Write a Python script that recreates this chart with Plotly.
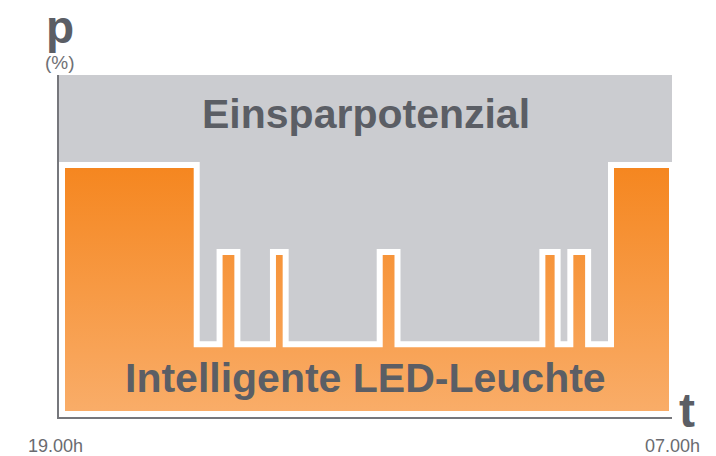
import plotly.graph_objects as go

# step profile of the luminaire output over one night (hours after 19.00h)
change_times = [0, 2.65, 3.10, 3.45, 4.15, 4.40, 6.25, 6.60, 9.45, 9.75, 10.0, 10.35, 10.8, 12]
power_levels = [100, 28, 65, 28, 65, 28, 65, 28, 65, 28, 65, 28, 100]

time_labels = ["19.00h", "07.00h"]
area_labels = ["Einsparpotenzial", "Intelligente LED-Leuchte"]

TEXT = "#5B5E65"
AXIS = "#76777C"
GREY = "#CBCCD0"

# closed outline of the stepped area, starting half way up the left edge
xs = [0, 0]
ys = [50, power_levels[0]]
for i, level in enumerate(power_levels):
    xs += [change_times[i], change_times[i + 1]]
    ys += [level, level]
xs += [change_times[-1], 0, 0]
ys += [0, 0, 50]

fig = go.Figure()
fig.add_trace(
    go.Scatter(
        x=xs,
        y=ys,
        mode="lines",
        fill="toself",
        fillgradient=dict(
            type="vertical",
            colorscale=[[0, "#F9AD69"], [1, "#F5861F"]],
        ),
        line=dict(color="white", width=6),
        hoverinfo="skip",
        showlegend=False,
    )
)

fig.update_xaxes(
    range=[-0.059, 12],
    showgrid=False,
    zeroline=False,
    showticklabels=False,
    showline=True,
    linecolor=AXIS,
    linewidth=2,
)
fig.update_yaxes(
    range=[-1.2, 136.1],
    showgrid=False,
    zeroline=False,
    showticklabels=False,
    showline=True,
    linecolor=AXIS,
    linewidth=2,
)

big = dict(family="Liberation Sans, Arial", size=41, color=TEXT, weight="bold")
notes = [
    dict(text=area_labels[0], x=0.5, y=0.886, font=big),
    dict(text=area_labels[1], x=0.5, y=0.115, font=big),
    dict(text="p", x=0.001, y=1.14, font=dict(big, size=46)),
    dict(text="(%)", x=0.001, y=1.0377,
         font=dict(family="Liberation Sans, Arial", size=19, color="#6F7075")),
    dict(text="t", x=1.0237, y=0.019, font=dict(big, size=48)),
    dict(text=time_labels[0], x=-0.0065, y=-0.084,
         font=dict(family="Liberation Sans, Arial", size=18, color="#6A6B70")),
    dict(text=time_labels[1], x=1.0, y=-0.084,
         font=dict(family="Liberation Sans, Arial", size=18, color="#6A6B70")),
]
for n in notes:
    fig.add_annotation(
        xref="paper", yref="paper", showarrow=False,
        xanchor="center", yanchor="middle", **n
    )

# the page body adds an 8px offset, so margins are set 8px smaller
fig.update_layout(
    width=716,
    height=456,
    margin=dict(l=51, r=52, t=67, b=47),
    plot_bgcolor=GREY,
    paper_bgcolor="white",
)

fig.write_html("out.html")
